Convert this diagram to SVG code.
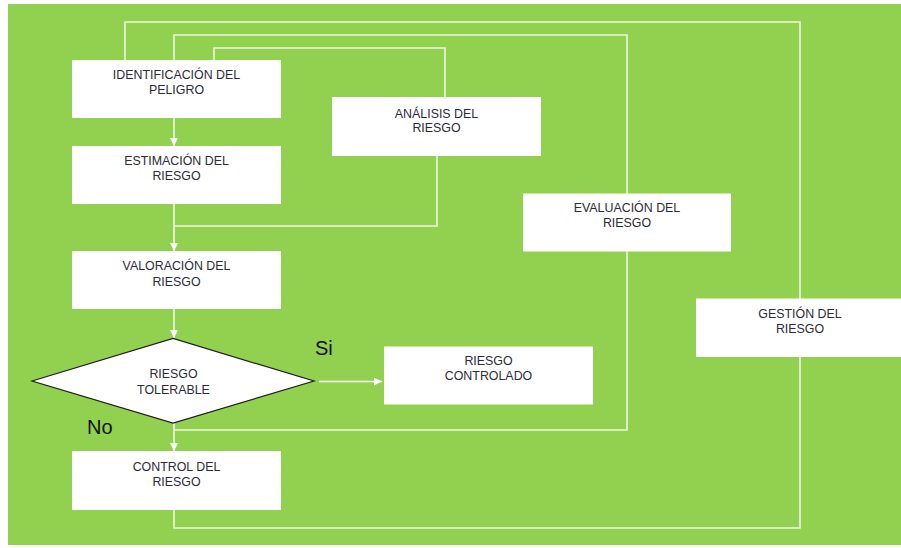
<svg xmlns="http://www.w3.org/2000/svg" width="901" height="548" viewBox="0 0 901 548">
<defs>
<marker id="ah" viewBox="0 0 8 8" refX="8" refY="4" markerWidth="8" markerHeight="8" markerUnits="userSpaceOnUse" orient="auto">
<path d="M0,0 L8,4 L0,8 Z" fill="#ffffff"/>
</marker>
<style>
.ln{fill:none;stroke:#eef6e2;stroke-width:1.6}
.ar{fill:none;stroke:#ffffff;stroke-width:1.4;marker-end:url(#ah)}
.box{fill:#ffffff}
.t{font-family:"Liberation Sans",Arial,sans-serif;font-size:12.4px;fill:#2b2b38;text-anchor:middle}
.big{font-family:"Liberation Sans",Arial,sans-serif;font-size:20px;fill:#111111}
</style>
</defs>
<rect x="0" y="0" width="901" height="548" fill="#ffffff"/>
<rect x="8" y="4" width="893" height="541" fill="#92d050"/>
<g id="connectors">
<polyline class="ln" points="125,60 125,22 800,22 800,528 174,528 174,510"/>
<polyline class="ln" points="174,60 174,35 627,35 627,430 174,430"/>
<polyline class="ln" points="214,60 214,48 445,48 445,97"/>
<polyline class="ln" points="437,156 437,226 174,226"/>
<line class="ar" x1="174" y1="118" x2="174" y2="146"/>
<line class="ar" x1="174" y1="204" x2="174" y2="251"/>
<line class="ar" x1="174" y1="309" x2="174" y2="338"/>
<line class="ar" x1="174" y1="423" x2="174" y2="451"/>
<line class="ar" x1="319" y1="381.5" x2="382" y2="381.5"/>
</g>
<g id="identificacion">
<rect class="box" x="72" y="60" width="209" height="58"/>
<text class="t" x="176.5" y="79">IDENTIFICACIÓN DEL</text>
<text class="t" x="176.5" y="93.5">PELIGRO</text>
</g>
<g id="estimacion">
<rect class="box" x="72" y="146" width="209" height="58"/>
<text class="t" x="176.5" y="164.5">ESTIMACIÓN DEL</text>
<text class="t" x="176.5" y="180">RIESGO</text>
</g>
<g id="valoracion">
<rect class="box" x="72" y="251" width="209" height="58"/>
<text class="t" x="176.5" y="270">VALORACIÓN DEL</text>
<text class="t" x="176.5" y="285.5">RIESGO</text>
</g>
<g id="analisis">
<rect class="box" x="332" y="97" width="209" height="59"/>
<text class="t" x="436.5" y="117.5">ANÁLISIS DEL</text>
<text class="t" x="436.5" y="132">RIESGO</text>
</g>
<g id="evaluacion">
<rect class="box" x="523" y="193.5" width="208" height="58"/>
<text class="t" x="627" y="212">EVALUACIÓN DEL</text>
<text class="t" x="627" y="227">RIESGO</text>
</g>
<g id="gestion">
<rect class="box" x="696" y="298.5" width="208" height="58.5"/>
<text class="t" x="800" y="317.5">GESTIÓN DEL</text>
<text class="t" x="800" y="333">RIESGO</text>
</g>
<g id="tolerable">
<polygon points="32,381 173,338.5 314,381 173,423" fill="#ffffff" stroke="#1e1e1e" stroke-width="1.2"/>
<text class="t" x="173.5" y="378">RIESGO</text>
<text class="t" x="173.5" y="393.5">TOLERABLE</text>
</g>
<g id="controlado">
<rect class="box" x="384" y="346.5" width="209" height="58"/>
<text class="t" x="488.5" y="364.5">RIESGO</text>
<text class="t" x="488.5" y="380">CONTROLADO</text>
</g>
<g id="control">
<rect class="box" x="72" y="451" width="209" height="59"/>
<text class="t" x="176.5" y="471">CONTROL DEL</text>
<text class="t" x="176.5" y="486">RIESGO</text>
</g>
<text class="big" x="315" y="354.5">Si</text>
<text class="big" x="87" y="433.5">No</text>
</svg>
